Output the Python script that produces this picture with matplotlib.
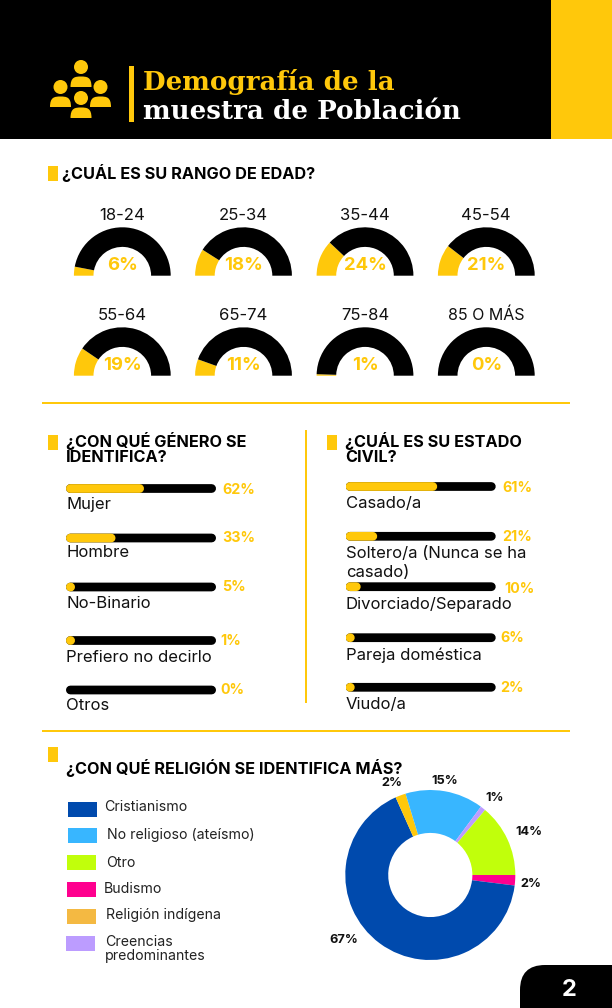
import matplotlib
matplotlib.use("Agg")
import matplotlib.pyplot as plt
from matplotlib.patches import Rectangle, Circle, FancyBboxPatch, PathPatch
from matplotlib.path import Path

W, H = 612, 1008
YELLOW = "#FFC80B"
FONT = "Inter"

age_labels = ["18-24", "25-34", "35-44", "45-54", "55-64", "65-74", "75-84", "85 O MÁS"]
age_values = [6, 18, 24, 21, 19, 11, 1, 0]

gender_labels = ["Mujer", "Hombre", "No-Binario", "Prefiero no decirlo", "Otros"]
gender_values = [62, 33, 5, 1, 0]
gender_drawn = [52, 33, 6, 6, 0]  # the bars in the picture are not always as long as their label

marital_labels = ["Casado/a", "Soltero/a (Nunca se ha\ncasado)", "Divorciado/Separado",
                  "Pareja doméstica", "Viudo/a"]
marital_values = [61, 21, 10, 6, 2]
marital_drawn = [61, 21, 10, 6, 6]

legend_labels = ["Cristianismo", "No religioso (ateísmo)", "Otro", "Budismo",
                 "Religión indígena", "Creencias\npredominantes"]
legend_colors = ["#004AAD", "#38B6FF", "#C1FF0B", "#FF008F", "#F4B942", "#BC9CFF"]

# donut order, clockwise from 3 o'clock
pie_values = [2, 67, 2, 15, 1, 14]
pie_colors = ["#FF008F", "#004AAD", YELLOW, "#38B6FF", "#BC9CFF", "#C1FF0B"]

fig = plt.figure(figsize=(W / 100, H / 100), dpi=100, facecolor="white")


def px_axes(x0, y0, x1, y1):
    # inset axes from pixel corners, y counted from the top
    a = fig.add_axes([x0 / W, 1 - y1 / H, (x1 - x0) / W, (y1 - y0) / H])
    a.set_axis_off()
    return a


bg = fig.add_axes([0, 0, 1, 1])
bg.set_xlim(0, W)
bg.set_ylim(H, 0)
bg.set_axis_off()
bg.set_zorder(5)


def label(x, y, s, size, color="black", weight="normal", ha="left", **kw):
    # +1: caps sit a pixel above the centre of the text box
    bg.text(x, y + 1, s, fontsize=size, color=color, fontweight=weight, ha=ha, va="center",
            family=FONT, **kw)


def shoulders(cx, bottom):
    # flat bottom, rounded top, about 21 x 10 px
    verts = [(cx - 10.5, bottom), (cx - 10.5, bottom - 10), (cx - 6, bottom - 10.5), (cx, bottom - 10.5),
             (cx + 6, bottom - 10.5), (cx + 10.5, bottom - 10), (cx + 10.5, bottom), (cx - 10.5, bottom)]
    codes = [Path.MOVETO, Path.CURVE4, Path.CURVE4, Path.CURVE4,
             Path.CURVE4, Path.CURVE4, Path.CURVE4, Path.CLOSEPOLY]
    bg.add_patch(PathPatch(Path(verts, codes), color=YELLOW, lw=0))


# header
bg.add_patch(Rectangle((0, 0), 551, 139, color="black", lw=0))
bg.add_patch(Rectangle((551, 0), 61, 139, color=YELLOW, lw=0))
bg.add_patch(Rectangle((129, 66), 5, 56, color=YELLOW, lw=0))
bg.text(143, 90, "Demografía de la", fontsize=18.8, color=YELLOW, fontweight="bold",
        family="DejaVu Serif", va="baseline")
bg.text(143, 119, "muestra de Población", fontsize=18.8, color="white", fontweight="bold",
        family="DejaVu Serif", va="baseline")

# people icon
for hx, hy in [(81, 67), (60.5, 87), (100.5, 87), (81, 98)]:
    bg.add_patch(Circle((hx, hy), 7, color=YELLOW, lw=0))
    shoulders(hx, hy + 20)

# section markers and titles
for mx, my in [(48, 166), (48, 435), (327, 435), (48, 747)]:
    bg.add_patch(Rectangle((mx, my), 10, 14.5, color=YELLOW, lw=0))
TITLE_SIZE = 11.7
label(62, 172.5, "¿CUÁL ES SU RANGO DE EDAD?", TITLE_SIZE, weight="bold")
label(66, 440.5, "¿CON QUÉ GÉNERO SE", TITLE_SIZE, weight="bold")
label(66, 457, "IDENTIFICA?", TITLE_SIZE, weight="bold")
label(345, 440.5, "¿CUÁL ES SU ESTADO", TITLE_SIZE, weight="bold")
label(345, 457, "CIVIL?", TITLE_SIZE, weight="bold")
label(66, 767, "¿CON QUÉ RELIGIÓN SE IDENTIFICA MÁS?", TITLE_SIZE, weight="bold")

# separators
bg.add_patch(Rectangle((42, 402), 528, 2, color=YELLOW, lw=0))
bg.add_patch(Rectangle((42, 730), 528, 2, color=YELLOW, lw=0))
bg.add_patch(Rectangle((305, 430), 2, 273, color=YELLOW, lw=0))

# gauges
gauge_x = [122.3, 243.5, 365, 486.3]
gauge_base = [275.7, 375.7]
for i, (name, val) in enumerate(zip(age_labels, age_values)):
    cx = gauge_x[i % 4]
    base = gauge_base[i // 4]
    a = px_axes(cx - 48.4, base - 48.4, cx + 48.4, base)
    a.pie([val, 100 - val, 100], colors=[YELLOW, "black", "none"], startangle=180,
          counterclock=False, radius=1, wedgeprops={"width": 0.405, "linewidth": 0})
    a.set_xlim(-1, 1)
    a.set_ylim(0, 1)
    a.set_aspect("auto")
    label(cx, base - 61, name, 12 if i < 7 else 11.5, ha="center", color="#111111")
    label(cx, base - 11, f"{val}%", 13.3, color=YELLOW, weight="bold", ha="center")

# gender bars
CAP = 2.9
gender_rows = [488.5, 538, 587, 640.5, 690]
gender_text_y = [503, 551.7, 603, 656, 705]
gender_pct_pos = [(222, 489), (222, 537), (222, 585.7), (220, 640), (220.7, 688.7)]
marital_rows = [486.5, 536.3, 586.7, 637.7, 687.3]
marital_text_y = [502.7, 562, 604, 654, 703.3]
marital_pct_pos = [(502, 486.7), (502, 536), (504, 588.3), (500.7, 637.3), (500.7, 687.3)]


def bar_panel(x0, rows, names, vals, drawn, text_y, pct_pos):
    a = px_axes(x0, 470, x0 + 150, 710)
    a.set_xlim(0, 100)
    a.set_ylim(710, 470)
    for row, d in zip(rows, drawn):
        a.plot([CAP, 100 - CAP], [row, row], color="black", lw=6.3, solid_capstyle="round", snap=False)
        if d > 0:
            a.plot([CAP, max(d - CAP, CAP + 0.1)], [row, row], color=YELLOW, lw=6.3,
                   solid_capstyle="round", snap=False)
    for name, val, ty, (px, py) in zip(names, vals, text_y, pct_pos):
        bg.text(x0, ty + 1, name, fontsize=12, color="#111111", family=FONT, va="center",
                linespacing=1.4)
        label(px, py, f"{val}%", 10.3, color=YELLOW, weight="bold")


bar_panel(66, gender_rows, gender_labels, gender_values, gender_drawn, gender_text_y, gender_pct_pos)
bar_panel(345.7, marital_rows, marital_labels, marital_values, marital_drawn, marital_text_y, marital_pct_pos)

# religion legend
swatch_pos = [(67.7, 802), (67.7, 828), (67.3, 854.7), (67.3, 881.7), (67, 909), (66, 936)]
legend_text_pos = [(104.3, 806.7), (106.7, 834.7), (106, 862.7), (104, 888.7), (105.7, 914.7), (105, 948.7)]
for name, col, (sx, sy), (tx, ty) in zip(legend_labels, legend_colors, swatch_pos, legend_text_pos):
    bg.add_patch(Rectangle((sx, sy), 29, 15, color=col, lw=0))
    bg.text(tx, ty + 0.5, name, fontsize=10.2, color="#222222", family=FONT, va="center", linespacing=1.05)

# donut
d = px_axes(345.3, 790, 515.3, 960)
d.pie(pie_values, colors=pie_colors, startangle=0, counterclock=False, radius=1,
      wedgeprops={"width": 0.505, "linewidth": 0})
d.set_xlim(-1, 1)
d.set_ylim(-1, 1)

pie_text_pos = [(530.7, 882.7), (343.3, 938.7), (392, 781.7), (444.3, 779.7), (494.7, 796.7), (528.7, 830.7)]
for val, (px, py) in zip(pie_values, pie_text_pos):
    label(px, py, f"{val}%", 9.2, weight="bold", ha="center", color="#111111")

# page number tab
bg.add_patch(FancyBboxPatch((545, 990), 100, 60, boxstyle="round,pad=25", color="black", lw=0))
label(569, 989, "2", 17, color="white", weight="bold", ha="center")

fig.savefig("out.png", dpi=100)
